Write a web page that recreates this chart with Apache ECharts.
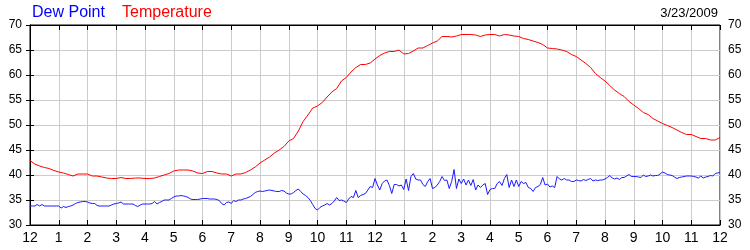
<!DOCTYPE html>
<html>
<head>
<meta charset="utf-8">
<script src="https://cdn.jsdelivr.net/npm/echarts@6/dist/echarts.min.js"></script>
<style>html,body{margin:0;padding:0;background:#fff}#c{width:750px;height:250px}</style>
</head>
<body>
<div id="c"></div>
<script>
// X tick labels (hours 0..24)
const xLabels = ['12','1','2','3','4','5','6','7','8','9','10','11','12','1','2','3','4','5','6','7','8','9','10','11','12'];
const yTicks = [30,35,40,45,50,55,60,65,70];

// Temperature, every 10 minutes from midnight to midnight (145 values)
const temperature = [
42.9,42.2,41.8,41.5,41.3,40.9,
40.6,40.4,40.1,39.8,40.2,40.2,
40.2,39.8,39.8,39.6,39.4,39.3,
39.3,39.5,39.3,39.3,39.4,39.4,
39.3,39.3,39.4,39.7,40.0,40.3,
40.8,41.0,41.0,41.0,40.8,40.4,
40.3,40.7,40.7,40.4,40.2,40.2,
39.8,40.2,40.2,40.5,41.0,41.6,
42.4,43.0,43.6,44.4,45.0,45.7,
46.8,47.3,48.8,50.7,52.0,53.4,
53.8,54.5,55.6,56.6,57.3,58.8,
59.5,60.6,61.5,62.1,62.1,62.4,
63.2,63.9,64.4,64.7,64.7,65.0,
64.2,64.3,64.8,65.4,65.4,65.9,
66.4,66.8,67.7,67.7,67.6,67.8,
68.1,68.1,68.1,68.0,67.7,68.0,
68.1,68.1,67.8,68.1,68.0,67.8,
67.7,67.3,67.1,66.8,66.5,66.1,
65.4,65.3,65.2,65.0,64.7,64.1,
63.7,63.0,62.3,61.5,60.3,59.5,
58.8,57.9,57.0,56.3,55.7,54.7,
54.0,53.3,52.5,52.1,51.3,50.8,
50.3,49.9,49.5,49.0,48.5,48.1,
48.1,47.7,47.3,47.3,47.0,47.0,
47.5];

// Dew point, every 5 minutes from midnight to midnight (289 values)
const dewPoint = [
33.8,33.8,33.8,34.1,33.8,34.1,33.8,33.8,33.8,33.8,33.8,33.8,
33.8,33.4,33.7,33.5,33.7,33.8,34.0,34.3,34.5,34.6,34.7,34.7,
34.6,34.4,34.3,34.3,33.9,33.8,33.8,33.8,33.8,33.8,34.0,34.2,
34.3,34.4,34.6,34.2,34.2,34.2,34.2,34.2,33.9,33.7,34.0,34.2,
34.2,34.2,34.2,34.3,34.7,34.2,34.5,34.7,35.0,35.0,35.0,35.3,
35.6,35.8,35.8,35.9,35.8,35.7,35.5,35.2,35.1,35.1,35.1,35.2,
35.3,35.3,35.3,35.2,35.2,35.2,35.1,34.9,34.3,34.0,34.5,34.6,
34.3,34.9,34.7,35.0,35.0,35.2,35.3,35.5,35.7,36.1,36.5,36.7,
36.8,36.7,36.8,36.9,37.0,36.9,36.8,36.7,36.7,36.9,36.8,36.4,
36.2,36.2,36.5,36.9,37.2,36.7,36.2,35.9,35.5,34.9,34.1,33.3,
33.0,33.5,33.8,34.0,34.3,34.0,34.3,34.8,35.5,34.9,35.0,34.8,
34.5,35.2,35.7,35.5,36.9,35.5,35.9,36.1,36.3,37.0,37.7,37.5,
39.3,38.0,37.0,38.3,38.8,39.0,37.9,36.3,38.1,38.1,37.8,38.0,
37.1,39.2,36.9,39.7,40.3,39.2,39.0,39.0,38.1,37.7,38.7,39.3,
37.3,37.5,38.0,38.7,39.7,38.9,39.0,37.3,38.7,41.1,37.3,39.2,
38.3,39.2,38.0,39.0,37.9,39.1,37.0,38.0,37.5,38.0,38.3,36.1,
37.1,37.3,37.3,38.3,38.7,37.9,39.3,40.1,37.5,39.0,37.7,39.0,
37.7,38.7,38.3,38.5,37.5,37.3,36.7,37.5,37.7,38.1,39.5,38.0,
38.2,37.6,37.8,37.5,39.7,39.2,39.0,39.3,39.0,39.0,38.7,38.7,
39.0,38.9,38.8,39.1,38.9,39.1,39.3,38.8,39.0,38.9,39.0,39.0,
39.2,39.5,39.9,39.4,39.2,39.4,39.1,39.5,39.5,39.8,40.1,39.7,
39.7,39.7,39.6,39.5,40.0,39.7,39.8,40.0,39.8,39.9,39.9,40.2,
40.6,40.4,40.1,40.0,39.9,39.6,39.3,39.5,39.6,39.7,39.8,39.8,
39.8,39.7,39.6,39.4,39.8,39.4,39.6,39.7,39.9,39.8,40.3,40.4,
40.5];

const tempData = temperature.map((v, i) => [i / 6, v]);
const dewData = dewPoint.map((v, i) => [i / 12, v]);

const FONT = 'Arial, "Liberation Sans", sans-serif';
const chart = echarts.init(document.getElementById('c'), null, {renderer: 'canvas'});

const yAxisBase = {
  type: 'value', min: yTicks[0], max: yTicks[yTicks.length - 1], interval: 5,
  axisLine: {show: true, lineStyle: {color: '#000', width: 1}},
  axisTick: {show: true, inside: true, length: 4, lineStyle: {color: '#000'}},
  axisLabel: {color: '#000', fontSize: 12, fontFamily: FONT, margin: 8}
};
const xAxisBase = {
  type: 'value', min: 0, max: 24, interval: 1,
  axisLine: {show: true, onZero: false, lineStyle: {color: '#000', width: 1}},
  axisTick: {show: true, inside: true, length: 5, lineStyle: {color: '#000'}}
};

chart.setOption({
  animation: false,
  backgroundColor: '#fff',
  title: [
    {text: 'Dew Point', left: 32, top: 5, padding: 0,
     textStyle: {color: '#0000ff', fontSize: 16, fontWeight: 'normal', fontFamily: FONT}},
    {text: 'Temperature', left: 122, top: 5, padding: 0,
     textStyle: {color: '#ff0000', fontSize: 16, fontWeight: 'normal', fontFamily: FONT}},
    {text: '3/23/2009', right: 32, top: 7, padding: 0,
     textStyle: {color: '#000', fontSize: 13, fontWeight: 'normal', fontFamily: FONT}}
  ],
  grid: {left: 30, right: 30, top: 25, bottom: 25, show: true, borderColor: '#000', borderWidth: 1, backgroundColor: '#fff'},
  xAxis: [
    Object.assign({}, xAxisBase, {
      position: 'bottom',
      splitLine: {show: true, lineStyle: {color: '#cccccc', width: 1}},
      axisLabel: {color: '#000', fontSize: 14, fontFamily: FONT, margin: 6,
        formatter: v => xLabels[Math.round(v)]}
    }),
    Object.assign({}, xAxisBase, {
      position: 'top',
      splitLine: {show: false},
      axisLabel: {show: false}
    })
  ],
  yAxis: [
    Object.assign({}, yAxisBase, {
      position: 'left',
      splitLine: {show: true, lineStyle: {color: '#cccccc', width: 1}}
    }),
    Object.assign({}, yAxisBase, {
      position: 'right',
      splitLine: {show: false}
    })
  ],
  series: [
    {name: 'Dew Point', type: 'line', data: dewData, xAxisIndex: 0, yAxisIndex: 0,
     showSymbol: false, symbol: 'none', smooth: false,
     lineStyle: {color: '#1a1aff', width: 1}},
    {name: 'Temperature', type: 'line', data: tempData, xAxisIndex: 0, yAxisIndex: 0,
     showSymbol: false, symbol: 'none', smooth: false,
     lineStyle: {color: '#ff0000', width: 1}}
  ]
});
</script>
</body>
</html>
